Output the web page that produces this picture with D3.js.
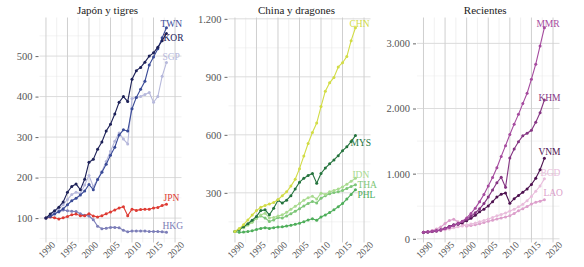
<!DOCTYPE html>
<html>
<head>
<meta charset="utf-8">
<script src="https://cdn.jsdelivr.net/npm/d3@7"></script>
<style>
  body { margin: 0; background: #fff; }
  svg text { font-family: "Liberation Serif", "DejaVu Serif", serif; }
</style>
</head>
<body>
<svg id="chart" width="584" height="267"></svg>
<script>
// años y ticks
const years = [1990, 1991, 1992, 1993, 1994, 1995, 1996, 1997, 1998, 1999,
  2000, 2001, 2002, 2003, 2004, 2005, 2006, 2007, 2008, 2009,
  2010, 2011, 2012, 2013, 2014, 2015, 2016, 2017, 2018]
const xTicks = [1990, 1995, 2000, 2005, 2010, 2015, 2020]

// Japón y tigres
const twn = [100, 104, 110, 116, 123, 133, 143, 149, 157, 167, 183, 170, 195, 213, 233, 255, 275, 305, 318, 315, 370, 398, 418, 438, 478, 498, 518, 545, 570]
const kor = [100, 110, 118, 127, 140, 164, 178, 184, 170, 196, 238, 245, 270, 288, 315, 332, 357, 386, 400, 388, 443, 464, 472, 485, 500, 508, 522, 538, 556]
const sgp = [100, 107, 114, 123, 133, 146, 158, 164, 160, 182, 205, 178, 195, 215, 240, 265, 290, 310, 295, 283, 395, 398, 400, 405, 410, 386, 400, 450, 484]
const jpn = [100, 103, 101, 98, 101, 104, 108, 110, 106, 106, 111, 105, 103, 106, 111, 115, 120, 125, 128, 106, 122, 119, 121, 122, 122, 125, 126, 131, 134]
const hkg = [100, 106, 112, 115, 120, 118, 117, 116, 111, 107, 105, 96, 80, 74, 75, 77, 77, 76, 70, 66, 68, 68, 68, 68, 67, 67, 67, 66, 65]

// China y dragones
const chn = [100, 115, 135, 160, 185, 208, 225, 235, 242, 250, 265, 285, 305, 335, 370, 425, 490, 555, 612, 661, 746, 826, 869, 897, 951, 973, 1005, 1087, 1154]
const mys = [100, 112, 125, 140, 158, 178, 208, 212, 186, 220, 262, 247, 262, 285, 320, 355, 375, 390, 400, 350, 400, 428, 450, 470, 492, 518, 538, 565, 596]
const idn = [100, 110, 120, 133, 148, 168, 185, 195, 170, 172, 180, 186, 200, 215, 230, 245, 262, 275, 282, 268, 298, 292, 305, 312, 320, 330, 345, 360, 375]
const tha = [100, 112, 122, 135, 150, 168, 180, 170, 152, 160, 172, 170, 180, 192, 205, 218, 232, 245, 255, 248, 272, 285, 295, 302, 306, 312, 322, 333, 342]
const phl = [100, 96, 97, 100, 104, 110, 116, 120, 116, 120, 123, 124, 128, 132, 137, 143, 150, 160, 166, 158, 175, 185, 198, 212, 228, 245, 268, 292, 316]

// Recientes
const mmr = [100, 108, 115, 125, 140, 155, 175, 200, 230, 270, 320, 390, 470, 570, 680, 810, 940, 1090, 1265, 1430, 1600, 1760, 1910, 2075, 2235, 2450, 2680, 2960, 3240]
const khm = [100, 105, 112, 122, 138, 160, 190, 215, 235, 265, 300, 345, 400, 460, 540, 640, 750, 860, 945, 790, 1240, 1380, 1490, 1580, 1620, 1665, 1790, 1935, 2130]
const vnm = [100, 105, 112, 120, 135, 160, 190, 212, 225, 245, 275, 315, 360, 415, 455, 505, 570, 640, 685, 703, 545, 615, 665, 715, 765, 835, 930, 1060, 1235]
const bgd = [100, 104, 109, 116, 125, 138, 152, 168, 183, 198, 212, 226, 242, 262, 282, 303, 328, 352, 372, 395, 425, 455, 490, 530, 585, 650, 730, 810, 920]
const lao = [100, 112, 128, 150, 180, 235, 280, 300, 262, 218, 195, 205, 215, 232, 250, 268, 285, 302, 320, 335, 355, 388, 430, 462, 497, 535, 560, 578, 600]

const yTicks1 = [100, 200, 300, 400, 500]
const yTicks2 = [300, 600, 900, 1200]
const yTicks3 = [0, 1000, 2000, 3000]

const panels = [
  { title: 'Japón y tigres', yTicks: yTicks1, x0: 39.5, x1: 181.5,
    series: [['HKG', hkg], ['JPN', jpn], ['SGP', sgp], ['TWN', twn], ['KOR', kor]] },
  { title: 'China y dragones', yTicks: yTicks2, x0: 228.5, x1: 370.5,
    series: [['PHL', phl], ['THA', tha], ['IDN', idn], ['MYS', mys], ['CHN', chn]] },
  { title: 'Recientes', yTicks: yTicks3, x0: 417, x1: 559.5,
    series: [['LAO', lao], ['BGD', bgd], ['VNM', vnm], ['KHM', khm], ['MMR', mmr]] }
]

const colors = {
  TWN: '#3a4b97', KOR: '#1d2158', SGP: '#b6b8db', JPN: '#de3b33', HKG: '#7c7eb8',
  CHN: '#d2dc45', MYS: '#24733d', IDN: '#a9db90', THA: '#7dc678', PHL: '#4eae5a',
  MMR: '#a54a9e', KHM: '#853583', VNM: '#4e1250', BGD: '#e9bddc', LAO: '#dc9fcb'
}
// desplazamiento de las etiquetas respecto al último punto
const nudge = {
  TWN: [-6, -4], KOR: [-3, 5], SGP: [-4, -6], JPN: [-3, -6], HKG: [-4, -6],
  CHN: [-6, -4], MYS: [-5, 7], IDN: [-3, -3], THA: [2, 0], PHL: [2, 5],
  MMR: [-8, -4], KHM: [-6, -2], VNM: [-6, -6], BGD: [-4, -6], LAO: [-1, -7]
}

const esES = d3.formatLocale({ decimal: ',', thousands: '.', grouping: [3], currency: ['', ' €'] })
const fmt = esES.format(',')

const svg = d3.select('#chart')
const yTop = 17.5
const yBot = 242.5

panels.forEach(function (p) {
  const all = p.series.flatMap(s => s[1])
  const lo = d3.min(all)
  const hi = d3.max(all)
  const pad = (hi - lo) * 0.05

  const x = d3.scaleLinear().domain([1988.5, 2021.5]).range([p.x0, p.x1])
  const y = d3.scaleLinear().domain([lo - pad, hi + pad]).range([yBot, yTop])

  const g = svg.append('g')

  // rejilla menor
  const step = p.yTicks[1] - p.yTicks[0]
  const yMinor = d3.range(p.yTicks[0] - step / 2, p.yTicks[p.yTicks.length - 1] + step, step)
    .filter(v => v >= y.domain()[0] && v <= y.domain()[1])
  const xMinor = xTicks.slice(0, -1).map(t => t + 2.5)

  g.selectAll('.ymin').data(yMinor).enter().append('line')
    .attr('x1', p.x0).attr('x2', p.x1)
    .attr('y1', d => y(d)).attr('y2', d => y(d))
    .attr('stroke', '#ececec').attr('stroke-width', 0.6)
  g.selectAll('.xmin').data(xMinor).enter().append('line')
    .attr('x1', d => x(d)).attr('x2', d => x(d))
    .attr('y1', yTop).attr('y2', yBot)
    .attr('stroke', '#e6e6e6').attr('stroke-width', 0.6)

  // rejilla mayor
  g.selectAll('.ymaj').data(p.yTicks).enter().append('line')
    .attr('x1', p.x0).attr('x2', p.x1)
    .attr('y1', d => y(d)).attr('y2', d => y(d))
    .attr('stroke', '#dcdcdc').attr('stroke-width', 1)
  g.selectAll('.xmaj').data(xTicks).enter().append('line')
    .attr('x1', d => x(d)).attr('x2', d => x(d))
    .attr('y1', yTop).attr('y2', yBot)
    .attr('stroke', '#cfcfcf').attr('stroke-width', 1)

  // eje y
  const yAxis = g.append('g')
    .attr('transform', `translate(${p.x0 - 1},0)`)
    .call(d3.axisLeft(y).tickValues(p.yTicks).tickSize(3).tickPadding(3).tickFormat(fmt))
  yAxis.select('.domain').remove()
  yAxis.selectAll('line').attr('stroke', '#666')
  yAxis.selectAll('text').attr('fill', '#555').style('font-size', '10.5px')

  // eje x
  g.selectAll('.xlab').data(xTicks).enter().append('text')
    .attr('transform', d => `translate(${x(d) + 1},250) rotate(-45)`)
    .attr('text-anchor', 'middle')
    .attr('dominant-baseline', 'central')
    .attr('fill', '#555')
    .style('font-size', '9.5px')
    .text(d => d)

  // título
  g.append('text')
    .attr('x', (p.x0 + p.x1) / 2 - 3)
    .attr('y', 14)
    .attr('text-anchor', 'middle')
    .attr('fill', '#222')
    .style('font-size', '11px')
    .text(p.title)

  const line = d3.line().x((d, i) => x(years[i])).y(d => y(d))

  p.series.forEach(function (s) {
    const code = s[0]
    const vals = s[1]
    const c = colors[code]
    g.append('path').datum(vals)
      .attr('d', line)
      .attr('fill', 'none')
      .attr('stroke', c)
      .attr('stroke-width', 1.1)
    g.selectAll('.pt-' + code).data(vals).enter().append('circle')
      .attr('cx', (d, i) => x(years[i]))
      .attr('cy', d => y(d))
      .attr('r', 1.5)
      .attr('fill', c)
    const last = vals.length - 1
    g.append('text')
      .attr('x', x(years[last]) + nudge[code][0])
      .attr('y', y(vals[last]) + nudge[code][1])
      .attr('dominant-baseline', 'central')
      .attr('fill', c)
      .style('font-size', '9.5px')
      .text(code)
  })
})
</script>
</body>
</html>
